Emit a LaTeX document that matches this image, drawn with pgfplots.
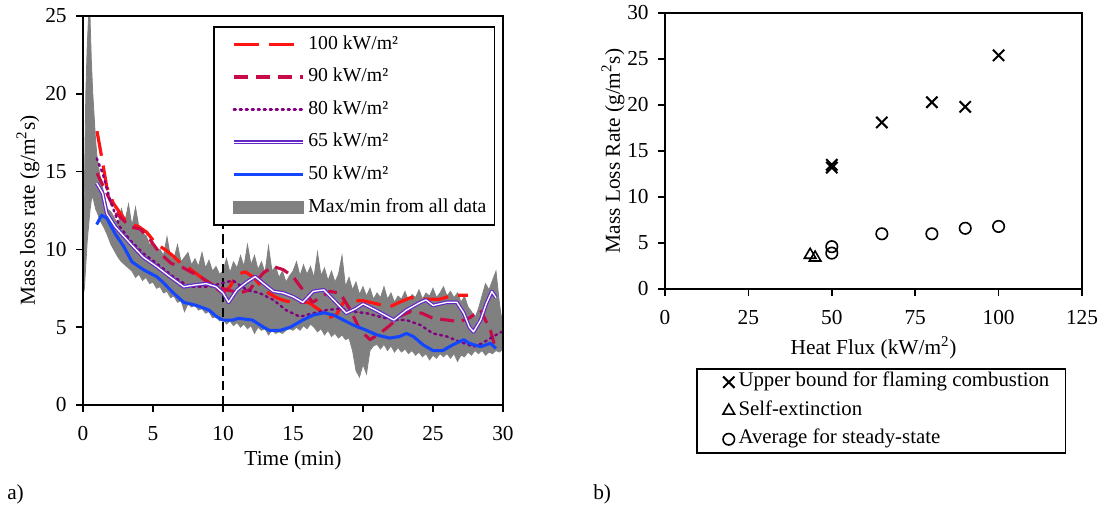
\documentclass[border=0pt]{standalone}
\usepackage{fontspec}
\setmainfont{Liberation Serif}
\usepackage{pgfplots}
\usepackage{pgfplotstable}
\pgfplotsset{compat=1.18}

\definecolor{c100}{RGB}{255,20,20}
\definecolor{c90}{RGB}{200,10,70}
\definecolor{c80}{RGB}{128,0,128}
\definecolor{c65}{RGB}{100,40,200}
\definecolor{c50}{RGB}{20,70,255}
\definecolor{bandgray}{RGB}{128,128,128}

% max/min envelope of all tests
\pgfplotstableread{
t lo hi
0 7.0 8.0
0.1 7.5 14
0.2 9.0 20
0.3 10.5 23
0.4 11.5 25
0.5 12.5 25
0.6 13.2 22
0.7 13.4 20
0.8 13.0 18.5
0.9 12.6 17
1.0 12.4 16
1.25 11.8 14.5
1.5 11.4 13.6
1.75 10.9 12.6
2.0 10.3 12.4
2.25 9.9 12.0
2.5 9.5 11.6
2.75 9.2 12.6
3.0 9.0 11.8
3.25 8.8 12.9
3.5 8.6 11.5
3.75 8.2 12.7
4.0 8.4 11.4
4.25 8.0 11.0
4.5 8.2 10.9
4.75 7.8 10.3
5.0 7.9 10.5
5.25 7.5 9.8
5.5 7.6 10.0
5.75 7.2 9.6
6.0 7.3 10.8
6.25 6.9 9.5
6.5 7.0 9.4
6.75 6.6 10.3
7.0 6.7 9.2
7.25 6.0 9.5
7.5 6.5 9.8
7.75 6.3 9.0
8.0 6.4 9.4
8.25 6.1 8.9
8.5 6.2 9.8
8.75 5.9 8.8
9.0 6.0 9.3
9.25 5.6 8.6
9.5 5.7 8.9
9.75 5.4 8.4
10.0 5.5 8.6
10.25 5.2 9.4
10.5 5.4 8.5
10.75 5.1 9.2
11.0 5.3 8.8
11.25 5.0 9.6
11.5 5.2 8.9
11.75 4.9 10.3
12.0 5.1 9.0
12.25 4.6 9.6
12.5 5.0 8.7
12.75 4.8 9.2
13.0 4.9 8.5
13.25 4.5 10.2
13.5 4.8 8.6
13.75 4.6 8.9
14.0 4.7 8.2
14.25 4.6 8.6
14.5 4.8 7.9
14.75 4.9 8.3
15.0 4.8 8.6
15.25 5.0 9.2
15.5 4.8 8.3
15.75 5.1 9.0
16.0 4.9 8.4
16.25 5.2 8.9
16.5 5.0 8.2
16.75 4.7 9.8
17.0 4.9 8.3
17.25 4.5 8.8
17.5 4.8 8.0
17.75 4.4 8.6
18.0 4.6 7.9
18.25 4.3 8.4
18.5 4.5 9.6
18.75 4.2 7.6
19.0 4.3 8.2
19.25 3.5 7.4
19.5 2.2 7.9
19.75 1.8 7.1
20.0 2.6 7.6
20.25 2.0 7.0
20.5 3.5 7.5
20.75 3.8 6.8
21.0 3.9 7.2
21.25 3.6 6.9
21.5 3.9 7.6
21.75 3.5 6.8
22.0 3.8 7.2
22.25 3.4 6.6
22.5 3.7 7.0
22.75 3.4 6.8
23.0 3.6 7.3
23.25 3.3 6.7
23.5 3.5 7.1
23.75 3.2 6.9
24.0 3.4 7.4
24.25 3.1 6.8
24.5 3.3 7.2
24.75 2.9 7.0
25.0 3.2 7.5
25.25 3.0 6.9
25.5 3.3 7.2
25.75 3.1 7.6
26.0 3.3 7.0
26.25 3.0 7.3
26.5 3.3 6.9
26.75 2.8 7.2
27.0 3.2 6.6
27.25 3.1 7.0
27.5 3.4 6.3
27.75 3.2 6.0
28.0 3.5 5.6
28.25 3.3 6.2
28.5 3.5 7.0
28.75 3.2 7.8
29.0 3.4 7.4
29.25 3.3 8.0
29.5 3.5 8.6
29.75 3.4 6.5
30.0 3.6 5.0
}\bandtab

\pgfplotsset{
  panel/.style={
    scale only axis, anchor=north west,
    axis line style={line width=1.2pt},
    every tick/.style={line width=1.2pt, black},
    major tick length=5pt, tick align=outside, tick pos=left,
    /pgf/number format/assume math mode=true,
    xticklabel style={yshift=-7.5pt},
    yticklabel style={xshift=-3.75pt},
    legend cell align=left,
  },
}

\begin{document}
\begin{tikzpicture}[font=\fontsize{16}{19}\selectfont]
\path[use as bounding box] (0pt,0pt) rectangle (828pt,-378.75pt);

% ---- a) mass loss rate vs time
\begin{axis}[panel, axis on top,
  at={(62.25pt,-12pt)}, width=315pt, height=291.75pt,
  xmin=0, xmax=30, ymin=0, ymax=25,
  xtick={0,5,...,30}, ytick={0,5,...,25},
  every axis x label/.style={at={(axis description cs:0.5,-0.1414)}, anchor=center},
  every axis y label/.style={at={(axis description cs:-0.131,0.5)}, rotate=90, anchor=center},
  xlabel={Time (min)},
  ylabel={Mass loss rate (g/m\textsuperscript{2}s)},
  legend style={at={(0.3095,0.974)}, anchor=north west, draw=black,
    line width=1.2pt, fill=white, inner xsep=6pt, inner ysep=5.6pt,
    row sep=9.45pt, column sep=2.5pt,
    font=\fontsize{14.8}{17}\selectfont,
    nodes={inner sep=0pt, text height=11pt, text depth=4pt}},
  legend image code/.code={\path[draw=none] (0pt,0pt) (61pt,0pt);
    \draw[#1] (9pt,0pt) -- (61pt,0pt);},
]
% envelope: grey under the max, white under the min
\addplot[fill=bandgray, draw=bandgray, line width=0.6pt, forget plot]
  table[x=t,y=hi]{\bandtab} \closedcycle;
\addplot[fill=white, draw=bandgray, line width=0.6pt, forget plot]
  table[x=t,y=lo]{\bandtab} \closedcycle;
\addplot[black, line width=1.5pt, dash pattern=on 7pt off 4pt, forget plot]
  coordinates {(10,0)(10,12)};

\addplot[c100, line width=2.4pt, dash pattern=on 18.75pt off 7.5pt, line join=round]
  coordinates {(1,17.6)(1.4,15.6)(1.7,14.0)(2.17,12.96)(2.6,12.4)(3.0,11.9)(3.5,11.6)(4.0,11.45)(4.55,11.1)(5.0,10.6)(5.5,10.2)(6.0,9.9)(6.4,9.6)(7.0,9.1)(7.4,8.9)(8.0,8.5)(8.6,8.1)(9.3,7.6)(10.0,7.2)(10.5,7.6)(11.0,8.4)(11.6,8.55)(12.2,8.2)(12.9,7.4)(13.8,6.9)(14.4,6.7)(15,6.6)(16.1,6.6)(16.9,6.1)(17.5,5.6)(18.1,5.8)(18.6,6.6)(19.3,6.7)(20,6.7)(21,6.5)(21.9,6.3)(22.6,6.6)(23.4,6.9)(24.5,6.8)(25.5,6.8)(26.4,7.05)(27.5,7.05)};
\addlegendentry{100 kW/m²}
\addplot[c90, line width=2.3pt, dash pattern=on 10.5pt off 6pt, line join=round]
  coordinates {(1,14.9)(1.7,13.6)(2.4,12.3)(3.36,11.46)(4.1,11.3)(4.8,10.6)(5.5,9.75)(6.3,9.1)(7.0,8.9)(7.6,8.6)(8.36,8.25)(9.3,7.7)(10.3,7.4)(11.2,7.2)(11.9,7.4)(12.4,8.0)(12.9,8.5)(13.6,8.9)(14.3,8.7)(15,8.25)(15.7,7.4)(16.4,6.6)(17.05,6.96)(17.6,7.3)(18.36,7.2)(19.1,6.1)(19.8,4.8)(20.5,4.2)(21.2,4.6)(21.9,5.1)(22.6,5.7)(23.4,6.0)(24.2,5.9)(25,5.57)(26,5.46)(26.9,5.35)(27.6,5.6)(28.4,6.1)(29.1,4.8)(29.5,3.5)};
\addlegendentry{90 kW/m²}
\addplot[c80, line width=1.8pt, dash pattern=on 1.5pt off 3pt, line cap=round]
  coordinates {(0.98,15.85)(1.4,14.9)(1.93,13.2)(2.6,11.5)(3.36,10.6)(4.3,9.75)(5.26,9.1)(6.45,8.25)(7.6,7.6)(9.0,7.6)(9.8,7.8)(10.7,8.0)(11.7,7.4)(12.6,7.2)(13.6,6.75)(14.5,6.1)(15.5,5.67)(16.45,5.9)(17.4,6.1)(18.4,6.2)(19.3,6.0)(20.25,5.9)(21.2,5.67)(22.2,5.46)(23.1,5.46)(24.1,5.14)(25,4.6)(26,4.4)(26.9,4.07)(27.9,3.75)(28.5,3.96)(29.3,4.4)(29.9,4.7)};
\addlegendentry{80 kW/m²}
\addplot[c65, line width=0.9pt, double=white, double distance=1pt, line join=round]
  coordinates {(0.98,14.25)(1.4,13.6)(1.7,12.3)(2.3,11.46)(3.36,10.4)(4.3,9.5)(5.26,8.9)(6.2,8.25)(7.2,7.6)(7.9,7.7)(8.8,7.8)(9.5,7.6)(10.0,7.2)(10.4,6.6)(11,7.4)(11.7,7.9)(12.3,8.25)(12.9,7.8)(13.6,7.3)(14.3,7.2)(15,6.96)(15.7,6.6)(16.45,7.3)(17.2,7.4)(17.9,6.75)(18.8,5.9)(19.5,6.2)(20,6.5)(20.9,6.1)(22.2,5.46)(23.1,6.1)(24.1,6.6)(24.5,6.75)(25,6.4)(26,6.6)(26.7,6.6)(27.2,5.9)(27.6,5.0)(27.9,4.7)(28.4,5.46)(28.8,6.5)(29.2,7.3)(29.5,6.9)};
\addlegendentry{65 kW/m²}
\addplot[c50, line width=2.3pt, line join=round]
  coordinates {(0.98,11.6)(1.33,12.2)(1.7,12.0)(2.3,11.0)(2.9,10.2)(3.5,9.2)(4.3,8.7)(5.26,8.25)(5.7,7.9)(6.45,7.2)(7.2,6.6)(8.1,6.4)(9,6.1)(9.55,5.67)(10,5.46)(10.7,5.46)(11.1,5.57)(12.1,5.46)(12.9,5.0)(13.3,4.8)(14.1,4.8)(14.8,5.0)(15.7,5.46)(16.45,5.78)(17.2,5.93)(17.9,5.78)(18.6,5.46)(19.3,5.14)(20.25,4.8)(21,4.5)(21.9,4.3)(22.6,4.4)(23.1,4.6)(23.6,4.4)(24.3,3.86)(25,3.5)(25.7,3.5)(26.4,3.86)(27.2,4.2)(27.6,3.96)(28.4,3.75)(29.1,3.96)(29.5,3.64)};
\addlegendentry{50 kW/m²}
\addlegendimage{legend image code/.code={\path[draw=none] (0pt,0pt) (61pt,0pt);
    \fill[bandgray] (9pt,-4.5pt) rectangle (61pt,4.5pt);}}
\addlegendentry{Max/min from all data}
\end{axis}

% ---- b) mass loss rate vs heat flux
\begin{axis}[panel,
  at={(498.75pt,-9.75pt)}, width=312.75pt, height=207pt,
  xmin=0, xmax=125, ymin=0, ymax=30,
  xtick={0,25,...,125}, ytick={0,5,...,30},
  every axis x label/.style={at={(axis description cs:0.5,-0.2138)}, anchor=center},
  every axis y label/.style={at={(axis description cs:-0.1247,0.5)}, rotate=90, anchor=center},
  xlabel={Heat Flux (kW/m\textsuperscript{2})},
  ylabel={Mass Loss Rate (g/m\textsuperscript{2}s)},
  legend style={at={(0.0743,-0.286)}, anchor=north west, draw=black,
    line width=1.2pt, fill=white, inner xsep=12pt, inner ysep=2.6pt,
    row sep=6.4pt, column sep=3pt,
    font=\fontsize{15.6}{18}\selectfont,
    nodes={inner sep=0pt, text height=11pt, text depth=4pt}},
  legend image code/.code={\path[draw=none] (0pt,0pt) (15.75pt,0pt);
    \draw[#1] plot coordinates {(12pt,0pt)};},
]
\addplot[only marks, mark=x, mark size=6pt, black, line width=1.5pt]
  coordinates {(50,13.2)(50,13.5)(65,18.1)(80,20.3)(90,19.8)(100,25.4)};
\addlegendentry{Upper bound for flaming combustion}
\addplot[only marks, mark=triangle, mark size=5pt, black, line width=1.2pt]
  coordinates {(43.5,3.7)(45,3.4)};
\addlegendentry{Self-extinction}
\addplot[only marks, mark=o, mark size=4.3pt, black, line width=1.2pt]
  coordinates {(50,4.6)(50,3.9)(65,6.0)(80,6.0)(90,6.6)(100,6.8)};
\addlegendentry{Average for steady-state}
\end{axis}

\node[anchor=base west, inner sep=0pt] at (5.25pt,-375pt) {a)};
\node[anchor=base west, inner sep=0pt] at (444.75pt,-375pt) {b)};
\end{tikzpicture}
\end{document}
